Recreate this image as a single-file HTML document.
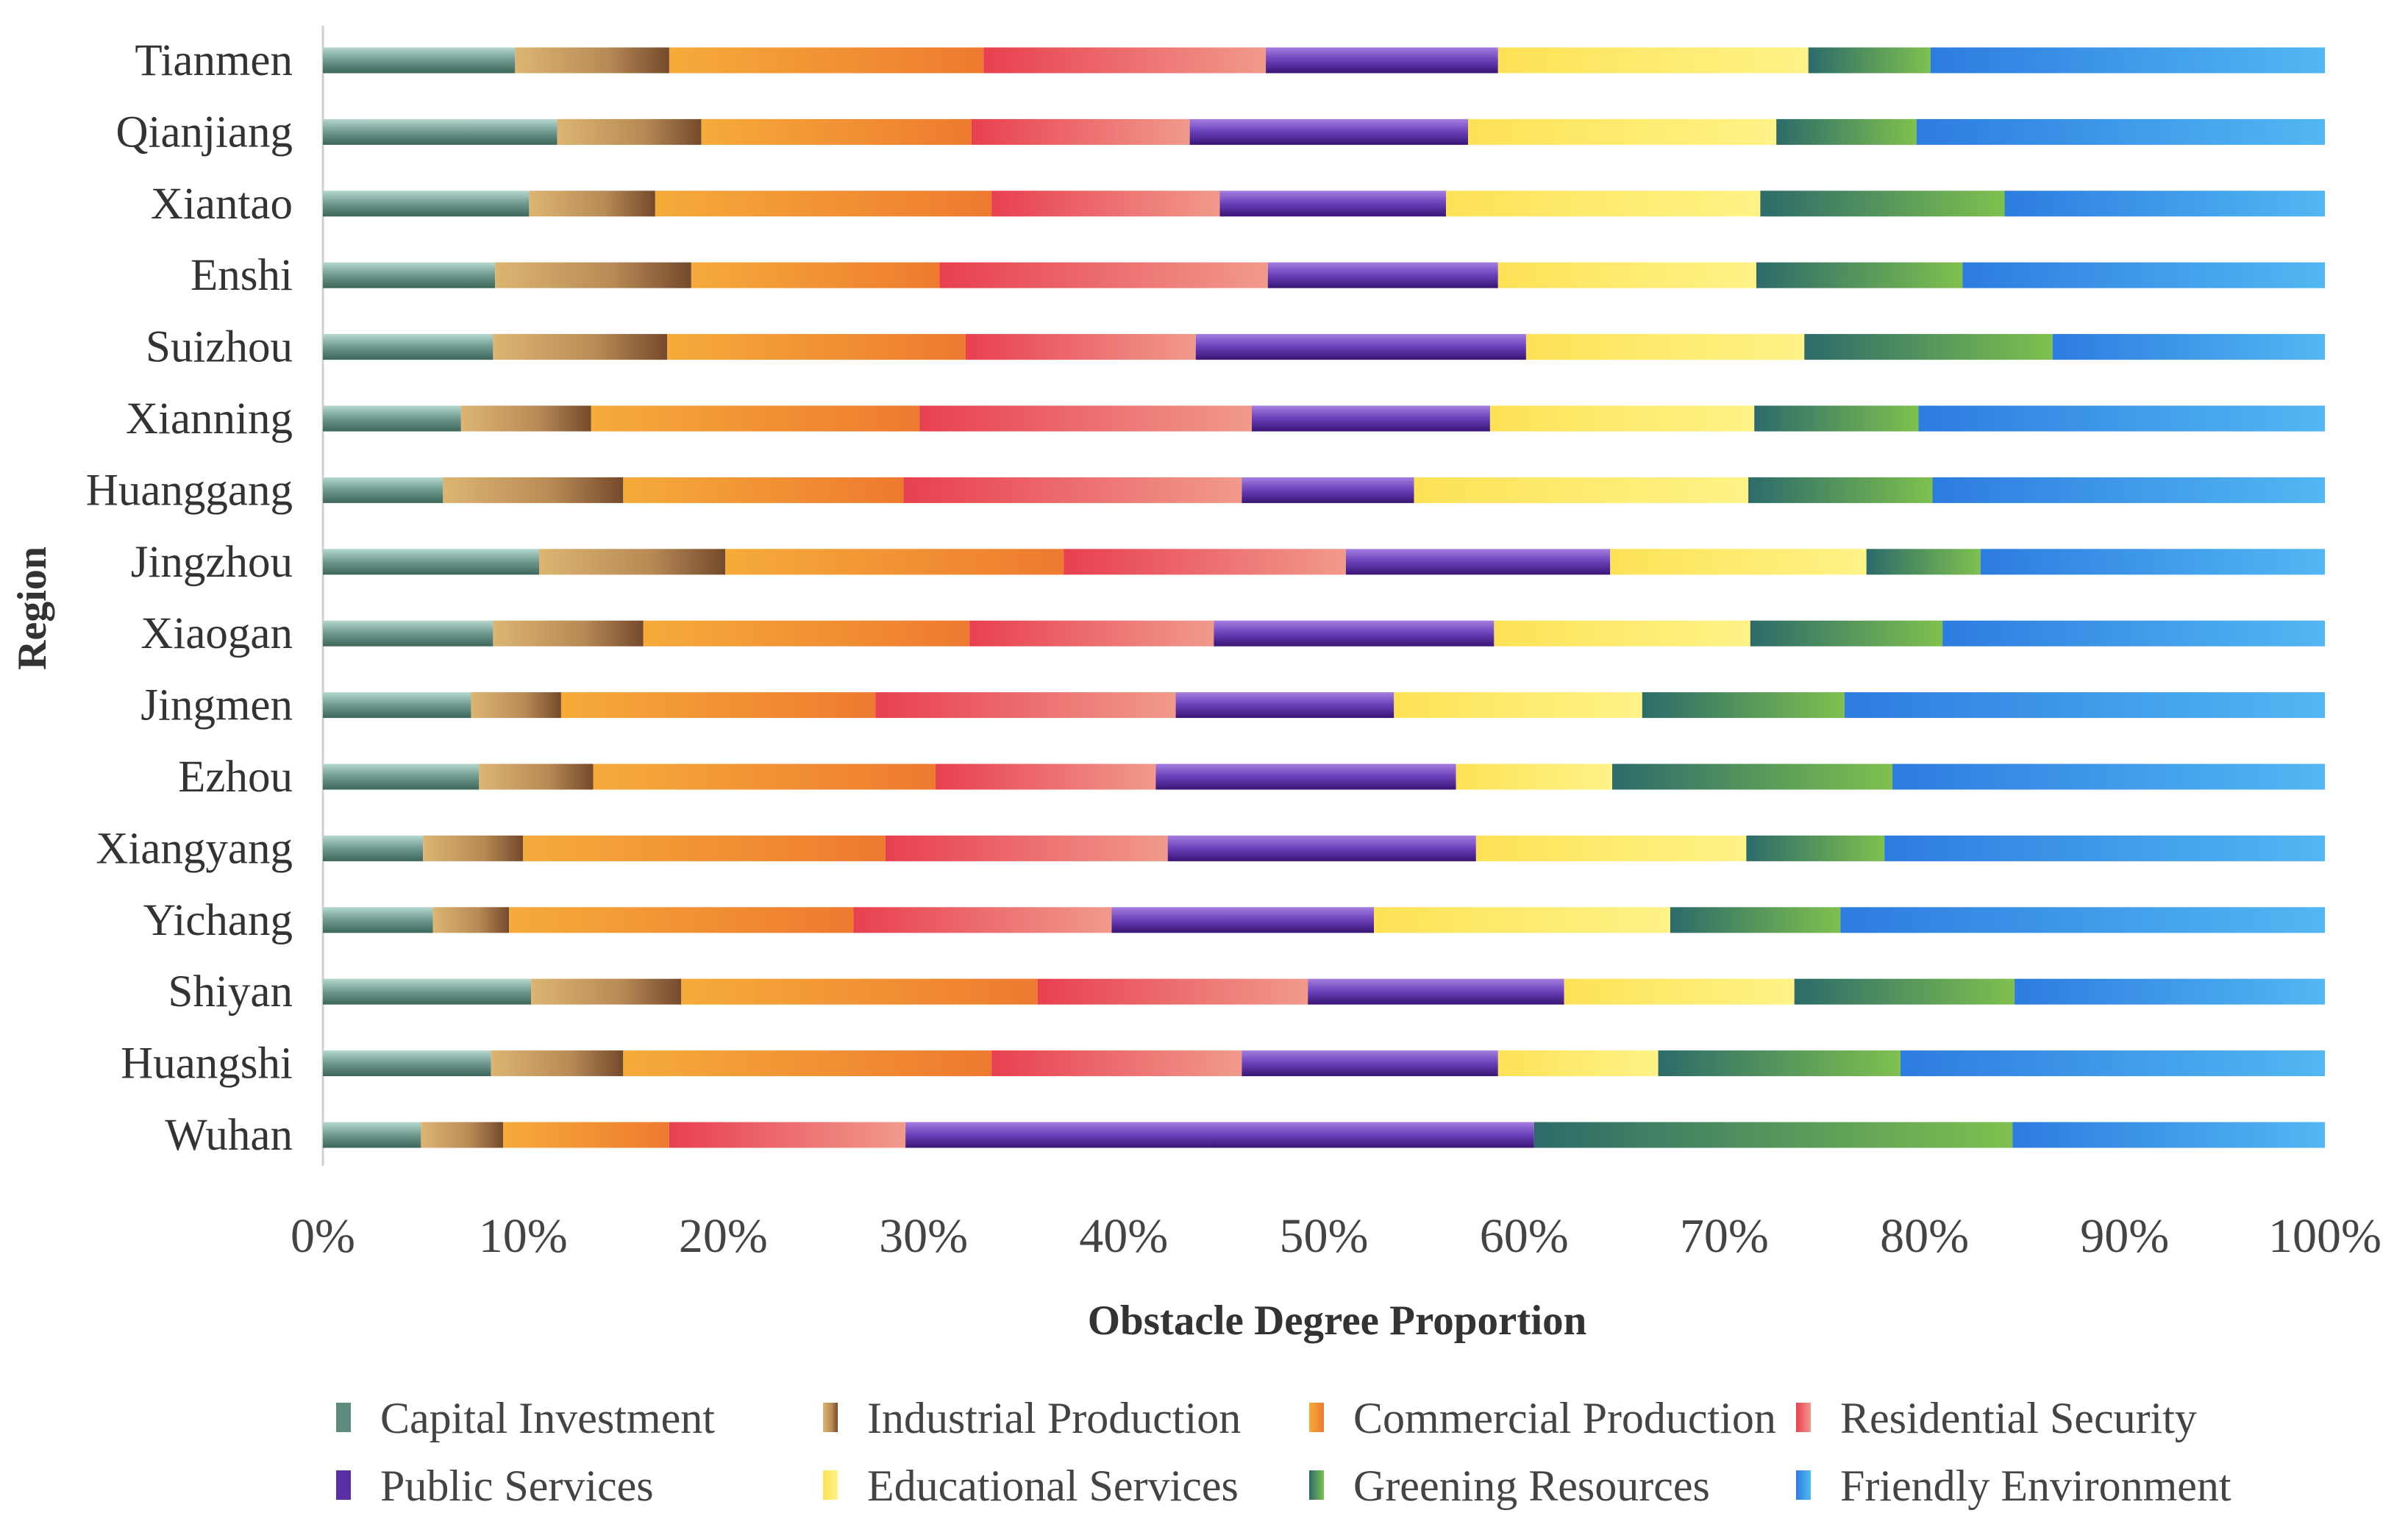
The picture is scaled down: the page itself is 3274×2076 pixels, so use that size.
<!DOCTYPE html>
<html><head><meta charset="utf-8"><style>
html,body{margin:0;padding:0;background:#fff;}
svg{display:block;font-family:"Liberation Serif",serif;}
</style></head><body>
<svg id="chart" width="3274" height="2076" viewBox="0 0 3274 2076" xmlns="http://www.w3.org/2000/svg">
<defs>
<linearGradient id="g0" x1="0" y1="0" x2="0" y2="1"><stop offset="0" stop-color="#b5d8cf"/><stop offset="0.5" stop-color="#6f998e"/><stop offset="1" stop-color="#3d665b"/></linearGradient>
<linearGradient id="g1" x1="0" y1="0" x2="1" y2="0"><stop offset="0" stop-color="#dcb572"/><stop offset="0.6" stop-color="#b88a55"/><stop offset="1" stop-color="#744a2c"/></linearGradient>
<linearGradient id="g2" x1="0" y1="0" x2="1" y2="0"><stop offset="0" stop-color="#f5ab3a"/><stop offset="1" stop-color="#ee7a2f"/></linearGradient>
<linearGradient id="g3" x1="0" y1="0" x2="1" y2="0"><stop offset="0" stop-color="#e8404f"/><stop offset="1" stop-color="#f19a8c"/></linearGradient>
<linearGradient id="g4" x1="0" y1="0" x2="0" y2="1"><stop offset="0" stop-color="#a47ee0"/><stop offset="0.5" stop-color="#6a3fb8"/><stop offset="1" stop-color="#381575"/></linearGradient>
<linearGradient id="g5" x1="0" y1="0" x2="1" y2="0"><stop offset="0" stop-color="#fde257"/><stop offset="1" stop-color="#fff387"/></linearGradient>
<linearGradient id="g6" x1="0" y1="0" x2="1" y2="0"><stop offset="0" stop-color="#2c6b6a"/><stop offset="1" stop-color="#7fc04e"/></linearGradient>
<linearGradient id="g7" x1="0" y1="0" x2="1" y2="0"><stop offset="0" stop-color="#2d7ce0"/><stop offset="1" stop-color="#52b7f2"/></linearGradient>
</defs>
<line x1="439" y1="35" x2="439" y2="1585" stroke="#d0d0d0" stroke-width="3"/>
<text transform="translate(62,827) rotate(-90)" text-anchor="middle" font-size="56" font-weight="bold" fill="#333">Region</text>
<text x="1818" y="1814" text-anchor="middle" font-size="57" font-weight="bold" fill="#333">Obstacle Degree Proportion</text>
<g id="bars"></g><g id="ylabels"></g><g id="xticks"></g><g id="legend"></g>
</svg>
<script>
const categories = ["Tianmen","Qianjiang","Xiantao","Enshi","Suizhou","Xianning","Huanggang","Jingzhou","Xiaogan","Jingmen","Ezhou","Xiangyang","Yichang","Shiyan","Huangshi","Wuhan"];
const seriesNames = ["Capital Investment","Industrial Production","Commercial Production","Residential Security","Public Services","Educational Services","Greening Resources","Friendly Environment"];
const capital     = [9.6,11.7,10.3,8.6,8.5,6.9,6.0,10.8,8.5,7.4,7.8,5.0,5.5,10.4,8.4,4.9];
const industrial  = [7.7,7.2,6.3,9.8,8.7,6.5,9.0,9.3,7.5,4.5,5.7,5.0,3.8,7.5,6.6,4.1];
const commercial  = [15.7,13.5,16.8,12.4,14.9,16.4,14.0,16.9,16.3,15.7,17.1,18.1,17.2,17.8,18.4,8.3];
const residential = [14.1,10.9,11.4,16.4,11.5,16.6,16.9,14.1,12.2,15.0,11.0,14.1,12.9,13.5,12.5,11.8];
const publicSvc   = [11.6,13.9,11.3,11.5,16.5,11.9,8.6,13.2,14.0,10.9,15.0,15.4,13.1,12.8,12.8,31.4];
const educational = [15.5,15.4,15.7,12.9,13.9,13.2,16.7,12.8,12.8,12.4,7.8,13.5,14.8,11.5,8.0,0.0];
const greening    = [6.1,7.0,12.2,10.3,12.4,8.2,9.2,5.7,9.6,10.1,14.0,6.9,8.5,11.0,12.1,23.9];
const friendly    = [19.7,20.4,16.0,18.1,13.6,20.3,19.6,17.2,19.1,24.0,21.6,22.0,24.2,15.5,21.2,15.6];
const tickLabels = ["0%","10%","20%","30%","40%","50%","60%","70%","80%","90%","100%"];
const tickValues = [0,10,20,30,40,50,60,70,80,90,100];

const NS="http://www.w3.org/2000/svg";
const X0=439,X1=3161,Y0=82,YSTEP=97.4,BH=35;
const xs=v=>X0+(X1-X0)*v/100;
const ys=i=>Y0+i*YSTEP;
const series=[capital,industrial,commercial,residential,publicSvc,educational,greening,friendly];
const bars=document.getElementById('bars');
categories.forEach((c,i)=>{
  const tot=series.reduce((s,a)=>s+a[i],0);
  let cum=0;
  series.forEach((arr,k)=>{
    const v=arr[i]/tot*100;
    const r=document.createElementNS(NS,'rect');
    r.setAttribute('x',xs(cum));r.setAttribute('y',ys(i)-BH/2);
    r.setAttribute('width',Math.max(0,xs(cum+v)-xs(cum)));r.setAttribute('height',BH);
    r.setAttribute('fill','url(#g'+k+')');
    
    
    bars.appendChild(r);cum+=v;
  });
  const t=document.createElementNS(NS,'text');
  t.setAttribute('x',398);t.setAttribute('y',ys(i)+20);
  t.setAttribute('text-anchor','end');t.setAttribute('font-size','61');t.setAttribute('fill','#333');
  t.textContent=c;
  
  
  document.getElementById('ylabels').appendChild(t);
});
tickValues.forEach((v,i)=>{
  const t=document.createElementNS(NS,'text');
  t.setAttribute('x',xs(v));t.setAttribute('y',1702);
  t.setAttribute('text-anchor','middle');t.setAttribute('font-size','66');t.setAttribute('fill','#444');
  t.textContent=tickLabels[i];
  
  
  document.getElementById('xticks').appendChild(t);
});
const lx=[457,1119,1780,2442],ly=[1928,2020];
seriesNames.forEach((n,k)=>{
  const g=document.createElementNS(NS,'g');
  
  
  const x=lx[k%4],y=ly[Math.floor(k/4)];
  const r=document.createElementNS(NS,'rect');
  r.setAttribute('x',x);r.setAttribute('y',y-21);r.setAttribute('width',20);r.setAttribute('height',40);
  r.setAttribute('fill',k===0?'#5e8b80':k===4?'#5a2fa5':'url(#g'+k+')');
  
  
  const t=document.createElementNS(NS,'text');
  t.setAttribute('x',x+60);t.setAttribute('y',y+20);t.setAttribute('font-size','60');t.setAttribute('fill','#444');
  t.textContent=n;
  
  
  g.appendChild(r);g.appendChild(t);
  document.getElementById('legend').appendChild(g);
});
</script>
</body></html>
